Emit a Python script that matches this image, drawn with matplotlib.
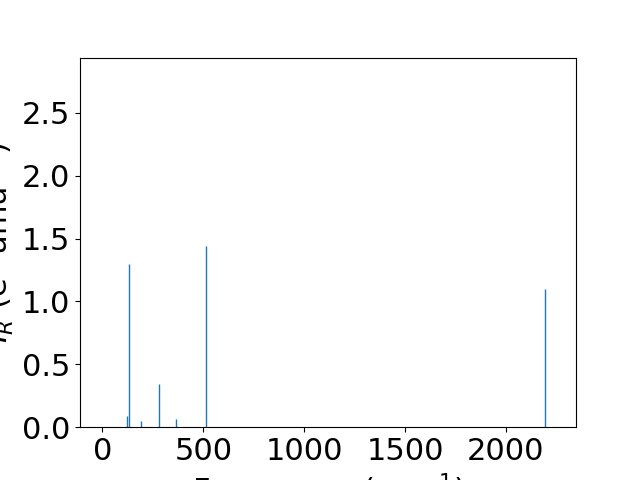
import matplotlib
matplotlib.use("Agg")
from matplotlib import pyplot as plt

freqs = [124, 134, 189, 279, 363, 512, 2194]
intensities = [0.09, 1.30, 0.05, 0.34, 0.065, 1.44, 1.10]


def main():
    plt.rcParams["font.size"] = 22
    fig, ax = plt.subplots(figsize=(6.4, 4.8), dpi=100)
    ax.vlines(freqs, 0, intensities, color="C0", linewidth=1)
    ax.set_xlim(-111, 2347)
    ax.set_ylim(0, 2.94)
    ax.set_xlabel("Frequency (cm$^{-1}$)")
    ax.set_ylabel("$I_R$ (e$^2$ amu$^{-1}$)")
    plt.savefig("out.png")
    plt.close()


if __name__ == "__main__":
    main()
